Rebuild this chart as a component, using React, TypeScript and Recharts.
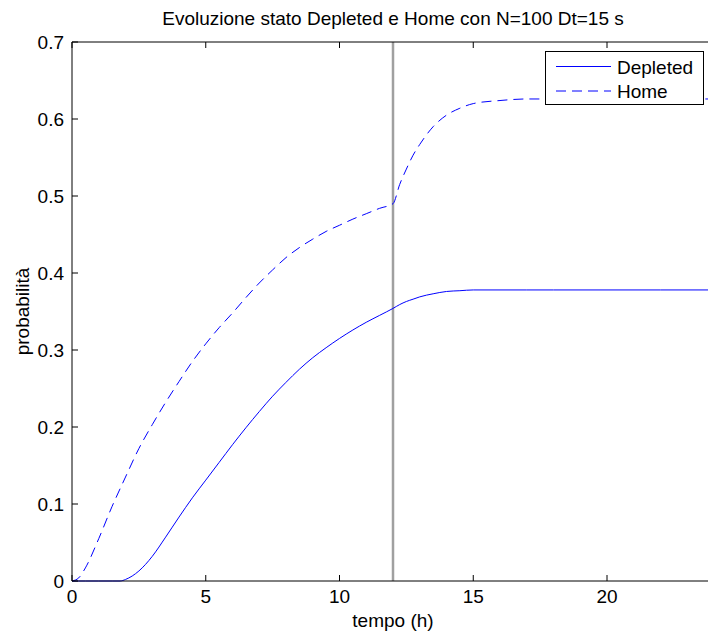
import { LineChart, Line, XAxis, YAxis, ReferenceLine, Legend } from "recharts"

const hours = [0, 0.25, 0.5, 1, 1.5, 1.8, 2, 2.5, 3, 3.5, 4, 4.5, 5, 5.5, 6, 6.5, 7, 7.5, 8, 8.5, 9, 9.5, 10, 10.5, 11, 11.5, 12, 12.25, 12.5, 12.75, 13, 13.5, 14, 14.5, 15, 16, 17, 18, 20, 22, 24]
const depleted = [0, 0, 0, 0, 0, 0, 0.002, 0.013, 0.032, 0.057, 0.083, 0.108, 0.131, 0.154, 0.177, 0.199, 0.22, 0.24, 0.258, 0.275, 0.29, 0.303, 0.315, 0.326, 0.336, 0.345, 0.354, 0.359, 0.363, 0.366, 0.369, 0.373, 0.376, 0.377, 0.378, 0.378, 0.378, 0.378, 0.378, 0.378, 0.378]
const home = [0, 0.004, 0.017, 0.055, 0.097, 0.12, 0.135, 0.172, 0.203, 0.232, 0.259, 0.285, 0.308, 0.329, 0.348, 0.368, 0.387, 0.404, 0.42, 0.433, 0.444, 0.454, 0.462, 0.47, 0.477, 0.484, 0.49, 0.515, 0.535, 0.553, 0.567, 0.59, 0.605, 0.614, 0.62, 0.624, 0.626, 0.626, 0.626, 0.626, 0.626]

const xTicks = [0, 5, 10, 15, 20]
const yTicks = [0, 0.1, 0.2, 0.3, 0.4, 0.5, 0.6, 0.7]
const switchHour = 12

const title = "Evoluzione stato Depleted e Home con N=100 Dt=15 s"
const xTitle = "tempo (h)"
const yTitle = "probabilità"

const data = hours.map((h, i) => ({ h, depleted: depleted[i], home: home[i] }))

const FONT = "'Liberation Sans', Arial, Helvetica, sans-serif"
const FS = 19
const BLUE = "#0000ff"
const DASH = "10 6"

const dashes: Record<string, string | undefined> = { Depleted: undefined, Home: DASH }

function BottomTick(props: any) {
    const { x, y, payload } = props
    return (
        <g>
            <line x1={x} y1={y} x2={x} y2={y - 6} stroke="#000" />
            <text x={x} y={y + 22} textAnchor="middle" fontSize={FS} fontFamily={FONT} fill="#000">
                {payload.value}
            </text>
        </g>
    )
}

function TopTick(props: any) {
    const { x, y } = props
    return <line x1={x} y1={y} x2={x} y2={y + 6} stroke="#000" />
}

function LeftTick(props: any) {
    const { x, y, payload } = props
    return (
        <g>
            <line x1={x} y1={y} x2={x + 6} y2={y} stroke="#000" />
            <text x={x - 8} y={y + 7} textAnchor="end" fontSize={FS} fontFamily={FONT} fill="#000">
                {payload.value}
            </text>
        </g>
    )
}

function LegendBox(props: any) {
    const items = props.payload || []
    return (
        <div style={{ width: 159, height: 54, border: "1px solid #000", background: "#fff", boxSizing: "border-box" }}>
            <svg width={157} height={52} style={{ display: "block" }}>
                {items.map((it: any, i: number) => (
                    <g key={it.value}>
                        <line x1={10} x2={65} y1={14.5 + i * 24.5} y2={14.5 + i * 24.5} stroke={BLUE} strokeDasharray={dashes[it.value]} />
                        <text x={71} y={21.5 + i * 24.5} fontSize={FS} fontFamily={FONT} fill="#000">
                            {it.value}
                        </text>
                    </g>
                ))}
            </svg>
        </div>
    )
}

export default function App() {
    return (
        <div style={{ position: "absolute", left: 0, top: 0, width: 708, height: 635, overflow: "hidden", background: "#fff" }}>
            <LineChart width={730} height={635} data={data} margin={{ top: 41, right: 16, bottom: 0, left: 0 }}>
                <XAxis
                    xAxisId="top"
                    orientation="top"
                    dataKey="h"
                    type="number"
                    domain={[0, 24]}
                    ticks={xTicks}
                    interval={0}
                    height={1}
                    tickSize={0}
                    tickMargin={0}
                    tickLine={false}
                    tick={<TopTick />}
                    stroke="#000"
                    label={(p: any) => (
                        <text x={p.viewBox.x + p.viewBox.width / 2} y={25} textAnchor="middle" fontSize={FS} fontFamily={FONT} fill="#000">
                            {title}
                        </text>
                    )}
                />
                <XAxis
                    dataKey="h"
                    type="number"
                    domain={[0, 24]}
                    ticks={xTicks}
                    interval={0}
                    height={54}
                    tickSize={0}
                    tickMargin={0}
                    tickLine={false}
                    tick={<BottomTick />}
                    stroke="#000"
                    label={(p: any) => (
                        <text x={p.viewBox.x + p.viewBox.width / 2} y={p.viewBox.y + 46} textAnchor="middle" fontSize={FS} fontFamily={FONT} fill="#000">
                            {xTitle}
                        </text>
                    )}
                />
                <YAxis
                    type="number"
                    domain={[0, 0.7]}
                    ticks={yTicks}
                    interval={0}
                    width={72}
                    tickSize={0}
                    tickMargin={0}
                    tickLine={false}
                    tick={<LeftTick />}
                    stroke="#000"
                    label={(p: any) => {
                        const cx = p.viewBox.x + 29
                        const cy = p.viewBox.y + p.viewBox.height / 2
                        return (
                            <text x={cx} y={cy} transform={`rotate(-90 ${cx} ${cy})`} textAnchor="middle" fontSize={FS} fontFamily={FONT} fill="#000">
                                {yTitle}
                            </text>
                        )
                    }}
                />
                <ReferenceLine x={switchHour} stroke="#a0a0a0" strokeWidth={2.5} />
                <Line type="monotone" dataKey="depleted" name="Depleted" stroke={BLUE} strokeWidth={1} dot={false} activeDot={false} isAnimationActive={false} />
                <Line type="monotone" dataKey="home" name="Home" stroke={BLUE} strokeWidth={1} strokeDasharray={DASH} dot={false} activeDot={false} isAnimationActive={false} />
                <Legend
                    layout="vertical"
                    align="center"
                    verticalAlign="middle"
                    content={<LegendBox />}
                    wrapperStyle={{ left: 545, top: 51, width: 159, height: 54 }}
                />
            </LineChart>
        </div>
    )
}
